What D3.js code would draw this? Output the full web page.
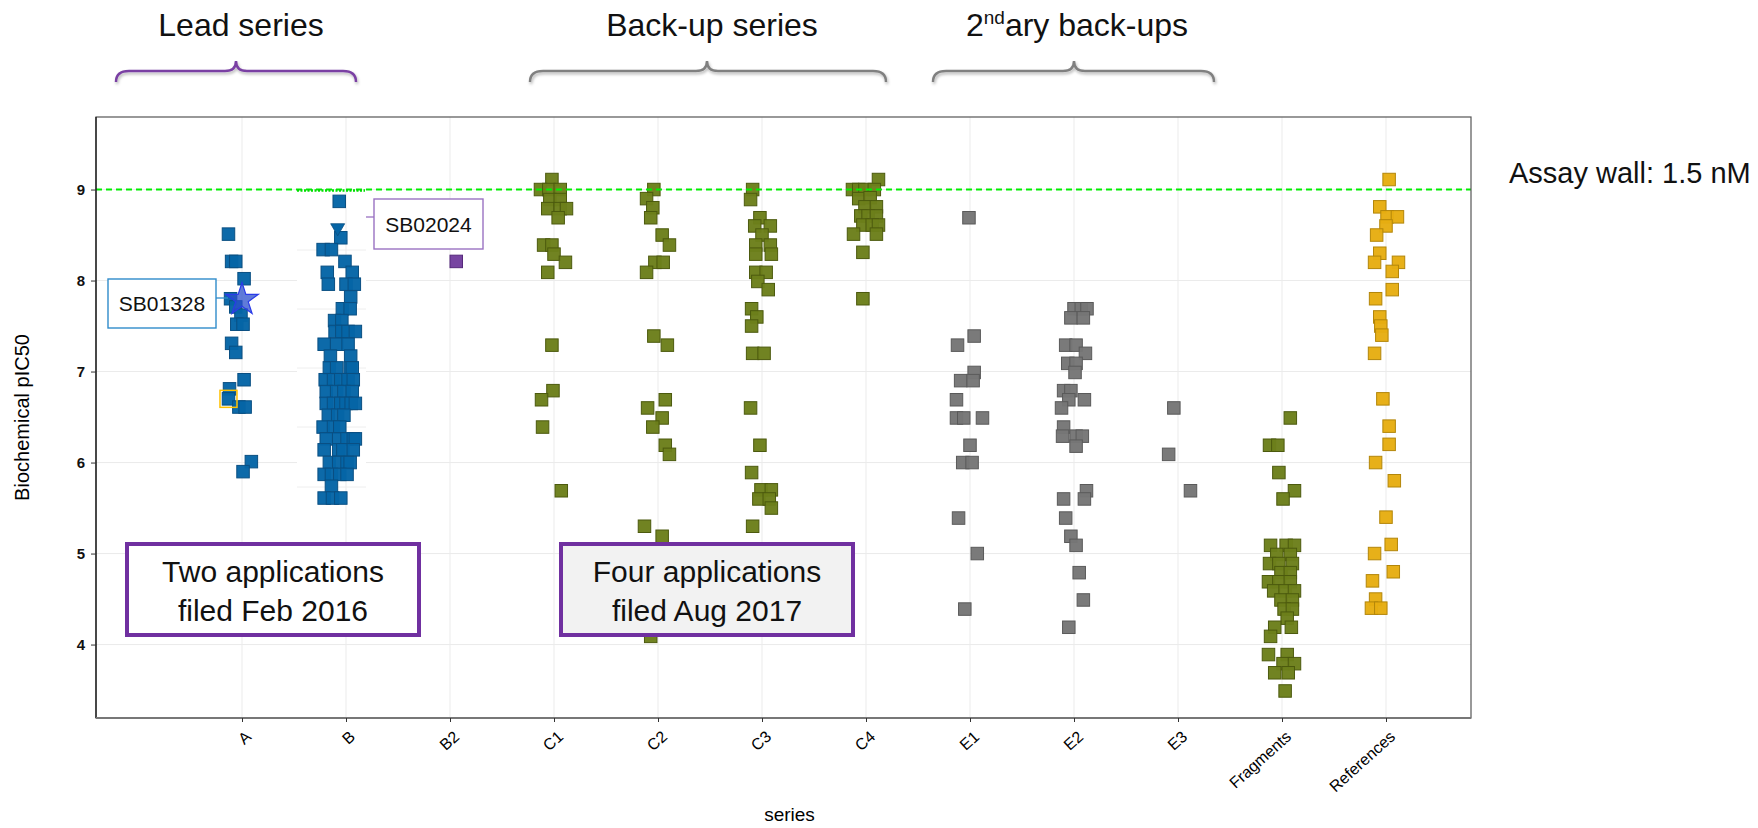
<!DOCTYPE html>
<html>
<head>
<meta charset="utf-8">
<script src="https://cdn.jsdelivr.net/npm/d3@7"></script>
<style>
  body { margin: 0; background: #fff; font-family: "Liberation Sans", Arial, sans-serif; }
</style>
</head>
<body>
<div id="chart"></div>
<script>
// categories on the x axis
const categories = ["A", "B", "B2", "C1", "C2", "C3", "C4", "E1", "E2", "E3", "Fragments", "References"];
const yTicks = [4, 5, 6, 7, 8, 9];
const assayWall = 9;

// each point: [pIC50, horizontal jitter in category steps]
const seriesA = [[8.51,-0.13],[8.21,-0.10],[8.21,-0.06],[8.02,0.02],[7.80,-0.11],[7.71,-0.06],[7.62,-0.01],[7.52,-0.05],[7.52,0.01],
  [7.31,-0.10],[7.21,-0.06],[6.91,0.02],[6.81,-0.12],[6.70,-0.13],[6.61,-0.03],[6.61,0.03],[6.01,0.09],[5.90,0.01]];
const seriesB = [[8.87,-0.065],[8.47,-0.05],[8.34,-0.22],[8.34,-0.14],[8.21,-0.01],[8.09,-0.18],[8.09,0.06],
  [7.96,-0.17],[7.96,0.0],[7.96,0.08],[7.82,0.045],[7.69,-0.035],[7.69,0.04],[7.56,-0.11],[7.56,-0.04],
  [7.44,-0.105],[7.44,-0.04],[7.44,0.02],[7.44,0.09],[7.30,-0.21],[7.30,-0.09],[7.30,0.02],[7.17,-0.15],[7.17,0.045],
  [7.04,-0.16],[7.04,-0.09],[7.04,0.04],[7.04,0.06],[6.91,-0.20],[6.91,-0.12],[6.91,-0.05],[6.91,0.02],[6.91,0.07],
  [6.78,-0.19],[6.78,-0.09],[6.78,-0.02],[6.78,0.06],[6.65,-0.19],[6.65,-0.12],[6.65,-0.05],[6.65,0.0],[6.65,0.05],[6.65,0.09],
  [6.52,-0.17],[6.52,-0.08],[6.52,-0.02],[6.39,-0.22],[6.39,-0.12],[6.39,-0.06],
  [6.26,-0.19],[6.26,-0.07],[6.26,0.01],[6.26,0.07],[6.26,0.09],[6.14,-0.21],[6.14,-0.07],[6.14,-0.03],[6.14,0.07],
  [6.00,-0.16],[6.00,-0.07],[6.00,0.01],[6.00,0.04],[5.87,-0.21],[5.87,-0.14],[5.87,-0.06],[5.87,0.01],
  [5.74,-0.14],[5.61,-0.21],[5.61,-0.13],[5.61,-0.05]];
const seriesB2 = [[8.21,0.06]];
const seriesC1 = [[9.11,-0.02],[9.0,-0.13],[9.0,-0.05],[9.0,0.06],[8.89,-0.04],[8.89,0.06],[8.79,-0.06],[8.79,0.06],[8.79,0.12],
  [8.69,0.04],[8.39,-0.10],[8.39,-0.02],[8.29,0.0],[8.20,0.11],[8.09,-0.06],[7.29,-0.02],[6.79,-0.01],[6.69,-0.12],[6.39,-0.11],[5.69,0.07]];
const seriesC2 = [[9.0,-0.04],[8.90,-0.11],[8.80,-0.05],[8.69,-0.07],[8.50,0.04],[8.39,0.11],[8.20,-0.03],[8.20,0.05],[8.09,-0.11],
  [7.39,-0.04],[7.29,0.09],[6.69,0.07],[6.60,-0.10],[6.49,0.04],[6.39,-0.05],[6.19,0.07],[6.09,0.11],[5.30,-0.13],[5.19,0.04],[4.09,-0.07]];
const seriesC3 = [[9.0,-0.09],[8.89,-0.11],[8.69,-0.02],[8.60,-0.07],[8.60,0.08],[8.50,0.0],[8.39,-0.06],[8.39,0.08],[8.29,-0.06],[8.29,0.09],
  [8.09,-0.06],[8.09,0.04],[7.99,-0.04],[7.90,0.06],[7.69,-0.10],[7.60,-0.05],[7.50,-0.10],[7.20,-0.09],[7.20,0.02],[6.60,-0.11],
  [6.19,-0.02],[5.89,-0.10],[5.70,-0.01],[5.70,0.09],[5.60,-0.03],[5.60,0.07],[5.50,0.09],[5.30,-0.09]];
const seriesC4 = [[9.11,0.12],[9.0,-0.13],[9.0,-0.07],[9.0,-0.01],[9.0,0.08],[8.90,-0.07],[8.91,0.04],[8.81,-0.01],[8.81,0.10],
  [8.71,-0.05],[8.71,0.02],[8.71,0.10],[8.61,-0.03],[8.61,0.06],[8.61,0.12],[8.51,-0.12],[8.51,0.10],[8.31,-0.03],[7.80,-0.03]];
const seriesE1 = [[8.69,-0.01],[7.39,0.04],[7.29,-0.12],[6.99,0.04],[6.90,-0.09],[6.90,0.03],[6.69,-0.13],[6.49,-0.13],[6.49,-0.06],
  [6.49,0.12],[6.19,0.0],[6.00,-0.07],[6.00,0.02],[5.39,-0.11],[5.00,0.07],[4.39,-0.05]];
const seriesE2 = [[7.69,0.0],[7.69,0.07],[7.69,0.125],[7.59,-0.03],[7.59,0.09],[7.29,-0.08],[7.29,0.02],[7.20,0.11],[7.09,-0.06],[7.09,0.02],
  [6.99,0.01],[6.79,-0.10],[6.79,-0.03],[6.69,-0.05],[6.69,0.10],[6.60,-0.12],[6.39,-0.10],[6.29,-0.11],[6.29,0.02],[6.29,0.08],
  [6.18,0.02],[5.69,0.12],[5.60,-0.10],[5.60,0.10],[5.39,-0.08],[5.19,-0.03],[5.09,0.02],[4.79,0.05],[4.49,0.09],[4.19,-0.05]];
const seriesE3 = [[6.60,-0.04],[6.09,-0.09],[5.69,0.12]];
const seriesFragments = [[6.49,0.08],[6.19,-0.12],[6.19,-0.04],[5.89,-0.03],[5.69,0.12],[5.60,0.01],[5.09,-0.11],[5.09,0.04],[5.09,0.12],
  [4.99,-0.05],[4.99,0.08],[4.89,-0.12],[4.89,-0.03],[4.89,0.10],[4.79,-0.01],[4.79,0.08],[4.69,-0.13],[4.69,-0.03],[4.69,0.08],
  [4.59,-0.08],[4.59,0.03],[4.59,0.12],[4.49,-0.01],[4.49,0.10],[4.39,0.02],[4.39,0.10],[4.29,0.05],[4.19,-0.07],[4.19,0.09],
  [4.09,-0.11],[3.89,-0.13],[3.89,0.05],[3.79,0.01],[3.79,0.12],[3.69,-0.07],[3.69,0.06],[3.49,0.03]];
const seriesReferences = [[9.11,0.03],[8.81,-0.06],[8.70,0.01],[8.70,0.11],[8.60,0.0],[8.50,-0.09],[8.30,-0.06],[8.20,-0.11],[8.20,0.12],
  [8.10,0.06],[7.90,0.06],[7.80,-0.10],[7.60,-0.06],[7.50,-0.05],[7.40,-0.04],[7.20,-0.11],[6.70,-0.03],[6.40,0.03],[6.20,0.03],
  [6.00,-0.10],[5.80,0.08],[5.40,0.0],[5.10,0.05],[5.00,-0.11],[4.80,0.07],[4.70,-0.13],[4.50,-0.10],[4.40,-0.14],[4.40,-0.05]];

// highlighted compounds
const starPoint = { cat: "A", value: 7.79, off: 0, label: "SB01328" };
const trianglePoint = { cat: "B", value: 8.58, off: -0.08, label: "SB02024" };
const ringedPoint = { cat: "A", value: 6.70, off: -0.13 };

(function() {
  const width = 1758;
  const height = 828;
  const margin = { top: 117, right: 287, bottom: 110, left: 96 };
  const innerW = width - margin.left - margin.right;
  const innerH = height - margin.top - margin.bottom;
  const font = "'Liberation Sans', Arial, sans-serif";

  const palette = {
    blue:   { fill: "#0565a6", stroke: "#0a4f82" },
    purple: { fill: "#733f9e", stroke: "#55297a" },
    olive:  { fill: "#6c7f1b", stroke: "#4c5a0e" },
    gray:   { fill: "#767676", stroke: "#5a5a5a" },
    gold:   { fill: "#e6ad12", stroke: "#b3860a" }
  };

  const groups = [
    { cat: "A", pts: seriesA, col: palette.blue },
    { cat: "B", pts: seriesB, col: palette.blue },
    { cat: "B2", pts: seriesB2, col: palette.purple },
    { cat: "C1", pts: seriesC1, col: palette.olive },
    { cat: "C2", pts: seriesC2, col: palette.olive },
    { cat: "C3", pts: seriesC3, col: palette.olive },
    { cat: "C4", pts: seriesC4, col: palette.olive },
    { cat: "E1", pts: seriesE1, col: palette.gray },
    { cat: "E2", pts: seriesE2, col: palette.gray },
    { cat: "E3", pts: seriesE3, col: palette.gray },
    { cat: "Fragments", pts: seriesFragments, col: palette.olive },
    { cat: "References", pts: seriesReferences, col: palette.gold }
  ];
  const points = groups.flatMap(g => g.pts.map(p => ({ cat: g.cat, value: p[0], off: p[1], col: g.col })));

  const svg = d3.select("#chart")
    .append("svg")
    .attr("width", width)
    .attr("height", height)
    .style("font-family", font);

  const defs = svg.append("defs");
  const shadow = defs.append("filter").attr("id", "shadow")
    .attr("x", "-10%").attr("y", "-50%").attr("width", "120%").attr("height", "200%");
  shadow.append("feDropShadow")
    .attr("dx", 1).attr("dy", 2).attr("stdDeviation", 1.5)
    .attr("flood-color", "#000").attr("flood-opacity", 0.3);

  const g = svg.append("g")
    .attr("transform", `translate(${margin.left},${margin.top})`);

  const x = d3.scalePoint()
    .domain(categories)
    .range([146, 1290]);

  const y = d3.scaleLinear()
    .domain([3.193, 9.797])
    .range([innerH, 0]);

  const px = d => x(d.cat) + d.off * x.step();

  // Grid
  g.append("g")
    .selectAll("line")
    .data(yTicks)
    .join("line")
    .attr("x1", 0).attr("x2", innerW)
    .attr("y1", d => y(d)).attr("y2", d => y(d))
    .attr("stroke", "#ebebeb");

  g.append("g")
    .selectAll("line")
    .data(categories)
    .join("line")
    .attr("x1", d => x(d)).attr("x2", d => x(d))
    .attr("y1", 0).attr("y2", innerH)
    .attr("stroke", "#ebebeb");

  // pasted panel behind series B (hides the grid, has its own faint lines)
  const paste = g.append("g");
  paste.append("rect")
    .attr("x", x("B") - 49).attr("y", y(9) + 1)
    .attr("width", 69).attr("height", 314)
    .attr("fill", "#fff");
  paste.selectAll("line")
    .data([250, 309, 368, 427, 487].map(v => v - margin.top))
    .join("line")
    .attr("x1", x("B") - 49).attr("x2", x("B") + 20)
    .attr("y1", d => d).attr("y2", d => d)
    .attr("stroke", "#eeeeee");
  paste.append("line")
    .attr("x1", x("B")).attr("x2", x("B"))
    .attr("y1", y(9) + 1).attr("y2", y(9) + 315)
    .attr("stroke", "#ebebeb");

  // Points
  const size = 12.5;
  g.append("g")
    .selectAll("rect")
    .data(points)
    .join("rect")
    .attr("x", d => px(d) - size / 2)
    .attr("y", d => y(d.value) - size / 2)
    .attr("width", size)
    .attr("height", size)
    .attr("fill", d => d.col.fill)
    .attr("stroke", d => d.col.stroke)
    .attr("stroke-width", 1)
    .attr("fill-opacity", 0.97);

  // ringed compound
  g.append("rect")
    .attr("x", px(ringedPoint) - 8.5)
    .attr("y", y(ringedPoint.value) - 8.5)
    .attr("width", 17).attr("height", 17)
    .attr("fill", "none")
    .attr("stroke", "#ffc000")
    .attr("stroke-width", 1.5);

  // star
  g.append("path")
    .attr("d", d3.symbol().type(d3.symbolStar).size(330)())
    .attr("transform", `translate(${px(starPoint)},${y(starPoint.value)})`)
    .attr("fill", "#2b4fcc")
    .attr("fill-opacity", 0.75)
    .attr("stroke", "#2a3be8")
    .attr("stroke-width", 1.2);

  // triangle
  g.append("path")
    .attr("d", d3.symbol().type(d3.symbolTriangle).size(85)())
    .attr("transform", `translate(${px(trianglePoint)},${y(trianglePoint.value)}) rotate(180)`)
    .attr("fill", palette.blue.fill)
    .attr("stroke", palette.blue.stroke)
    .attr("stroke-width", 0.8);

  // assay wall
  g.append("line")
    .attr("x1", 0).attr("x2", innerW)
    .attr("y1", y(assayWall)).attr("y2", y(assayWall))
    .attr("stroke", "#00ee00")
    .attr("stroke-width", 2)
    .attr("stroke-dasharray", "6,4");
  g.append("line")
    .attr("x1", x("B") - 49).attr("x2", x("B") + 19)
    .attr("y1", y(assayWall) + 1).attr("y2", y(assayWall) + 1)
    .attr("stroke", "#00dd00")
    .attr("stroke-width", 2.5)
    .attr("stroke-dasharray", "2,1.5");

  // Plot frame
  g.append("rect")
    .attr("width", innerW).attr("height", innerH)
    .attr("fill", "none")
    .attr("stroke", "#555")
    .attr("stroke-width", 1.2);
  g.append("line")
    .attr("x1", 0).attr("x2", 0).attr("y1", 0).attr("y2", innerH)
    .attr("stroke", "#111").attr("stroke-width", 1.2);
  g.append("line")
    .attr("x1", 0).attr("x2", innerW).attr("y1", innerH).attr("y2", innerH)
    .attr("stroke", "#777").attr("stroke-width", 2.2);

  // Axes
  const yAxis = g.append("g")
    .call(d3.axisLeft(y).tickValues(yTicks).tickSize(5).tickPadding(6).tickFormat(d3.format("d")));
  yAxis.select(".domain").remove();
  yAxis.selectAll("text")
    .attr("font-size", 15)
    .attr("font-weight", "bold")
    .attr("fill", "#111")
    .attr("font-family", font);
  yAxis.selectAll("line").attr("stroke", "#333");

  const xAxis = g.append("g")
    .attr("transform", `translate(0,${innerH})`)
    .call(d3.axisBottom(x).tickSize(4));
  xAxis.select(".domain").remove();
  xAxis.selectAll("line").attr("stroke", "#333");
  xAxis.selectAll("text")
    .attr("x", 0).attr("y", 0).attr("dy", "0.35em")
    .attr("transform", "translate(6,16) rotate(-42)")
    .attr("text-anchor", "end")
    .attr("font-size", 16)
    .attr("fill", "#000")
    .attr("font-family", font);

  // Axis labels
  svg.append("text")
    .attr("transform", "rotate(-90)")
    .attr("x", -(margin.top + innerH / 2))
    .attr("y", 29)
    .attr("text-anchor", "middle")
    .attr("font-size", 20)
    .attr("fill", "#000")
    .text("Biochemical pIC50");

  svg.append("text")
    .attr("x", margin.left + innerW / 2 + 6)
    .attr("y", 821)
    .attr("text-anchor", "middle")
    .attr("font-size", 19)
    .attr("fill", "#000")
    .text("series");

  // Callouts
  function callout(box, lineY, lineX1, lineX2, text, color) {
    svg.append("line")
      .attr("x1", lineX1).attr("x2", lineX2)
      .attr("y1", lineY).attr("y2", lineY)
      .attr("stroke", color).attr("stroke-width", 1.3);
    svg.append("rect")
      .attr("x", box[0]).attr("y", box[1])
      .attr("width", box[2]).attr("height", box[3])
      .attr("fill", "#fff")
      .attr("stroke", color).attr("stroke-width", 1.4);
    svg.append("text")
      .attr("x", box[0] + box[2] / 2)
      .attr("y", box[1] + box[3] / 2 + 7.5)
      .attr("text-anchor", "middle")
      .attr("font-size", 21)
      .attr("fill", "#111")
      .text(text);
  }
  callout([108, 279, 108, 49], 298, 216, 228, starPoint.label, "#2f8ccb");
  callout([374, 199, 109, 50], 217, 366, 374, trianglePoint.label, "#9a72c2");

  // Filing boxes
  function filingBox(bx, fill, lines) {
    svg.append("rect")
      .attr("x", bx).attr("y", 544)
      .attr("width", 292).attr("height", 91)
      .attr("fill", fill)
      .attr("stroke", "#7030a0")
      .attr("stroke-width", 4);
    svg.append("text")
      .attr("text-anchor", "middle")
      .attr("font-size", 30)
      .attr("fill", "#111")
      .selectAll("tspan")
      .data(lines)
      .join("tspan")
      .attr("x", bx + 146)
      .attr("y", (d, i) => 582 + i * 39)
      .text(d => d);
  }
  filingBox(127, "#ffffff", ["Two applications", "filed Feb 2016"]);
  filingBox(561, "#f2f2f2", ["Four applications", "filed Aug 2017"]);

  // Assay wall label
  svg.append("text")
    .attr("x", 1509).attr("y", 183)
    .attr("font-size", 29)
    .attr("fill", "#111")
    .text("Assay wall: 1.5 nM");

  // Braces and headers
  function brace(x0, x1, xm, color) {
    const yEnd = 82, yMid = 71, yTip = 61, r = 13, r2 = 11;
    const p = d3.path();
    p.moveTo(x0, yEnd);
    p.quadraticCurveTo(x0, yMid, x0 + r, yMid);
    p.lineTo(xm - r2, yMid);
    p.quadraticCurveTo(xm, yMid, xm, yTip);
    p.quadraticCurveTo(xm, yMid, xm + r2, yMid);
    p.lineTo(x1 - r, yMid);
    p.quadraticCurveTo(x1, yMid, x1, yEnd);
    svg.append("path")
      .attr("d", p.toString())
      .attr("fill", "none")
      .attr("stroke", color)
      .attr("stroke-width", 2.5)
      .attr("filter", "url(#shadow)");
  }
  brace(116, 356, 236, "#7a3fa3");
  brace(530, 886, 707, "#808080");
  brace(933, 1214, 1074, "#808080");

  const header = (cx, t) => svg.append("text")
    .attr("x", cx).attr("y", 36)
    .attr("text-anchor", "middle")
    .attr("font-size", 32)
    .attr("fill", "#111")
    .text(t);
  header(241, "Lead series");
  header(712, "Back-up series");
  const sec = svg.append("text")
    .attr("x", 1077).attr("y", 36)
    .attr("text-anchor", "middle")
    .attr("font-size", 32)
    .attr("fill", "#111");
  sec.append("tspan").text("2");
  sec.append("tspan").attr("font-size", 19).attr("dy", -12).text("nd");
  sec.append("tspan").attr("dy", 12).text("ary back-ups");
})();
</script>
</body>
</html>
